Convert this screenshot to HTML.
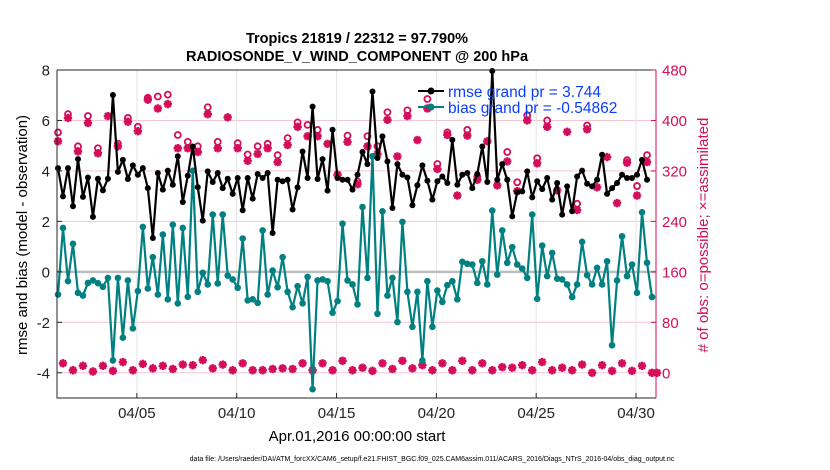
<!DOCTYPE html>
<html><head><meta charset="utf-8"><style>
html,body{margin:0;padding:0;background:#fff;}
svg{display:block;font-family:"Liberation Sans",Arial,sans-serif;}
</style></head><body>
<svg id="chart" width="830" height="470" viewBox="0 0 830 470" xmlns="http://www.w3.org/2000/svg">
<rect width="830" height="470" fill="#fff"/>
<text x="357" y="43" font-size="14.5" font-weight="bold" text-anchor="middle">Tropics 21819 / 22312 = 97.790%</text>
<text x="357" y="61" font-size="14.5" font-weight="bold" text-anchor="middle">RADIOSONDE_V_WIND_COMPONENT @ 200 hPa</text>
<g id="grid"></g>
<g id="obs"></g>
<g id="lines"></g>
<g id="axes"></g>
<text transform="translate(27,235) rotate(-90)" font-size="15" text-anchor="middle">rmse and bias (model - observation)</text>
<text transform="translate(708,235) rotate(-90)" font-size="15" text-anchor="middle" fill="#d40d5a"># of obs: o=possible; ×=assimilated</text>
<text x="357" y="441" font-size="15" text-anchor="middle">Apr.01,2016 00:00:00 start</text>
<text x="432" y="461" font-size="7" text-anchor="middle">data file: /Users/raeder/DAI/ATM_forcXX/CAM6_setup/f.e21.FHIST_BGC.f09_025.CAM6assim.011/ACARS_2016/Diags_NTrS_2016-04/obs_diag_output.nc</text>
<g>
<line x1="418" y1="91" x2="444" y2="91" stroke="#000" stroke-width="2"/>
<circle cx="431" cy="91" r="3.5" fill="#000"/>
<text x="448" y="97" font-size="15.5" fill="#0a3cff">rmse grand pr = 3.744</text>
<line x1="418" y1="107" x2="444" y2="107" stroke="#008080" stroke-width="2"/>
<circle cx="431" cy="107" r="3.5" fill="#008080"/>
<text x="448" y="113" font-size="15.5" fill="#0a3cff">bias grand pr = -0.54862</text>
</g>
</svg>
<script>
const rmse=[4.11,2.99,4.11,2.6,4.47,2.97,3.74,2.18,3.69,3.23,3.69,7.01,3.96,4.44,3.68,4.22,3.85,4.11,3.32,1.34,
3.92,3.26,4.01,3.45,4.58,2.77,3.81,4.97,3.36,2.03,3.98,3.56,3.92,3.32,3.69,3.09,3.72,2.44,3.72,2.9,
3.88,3.72,3.92,1.54,3.65,3.59,3.65,2.47,3.35,4.77,3.72,6.55,3.68,4.47,3.22,5.63,3.72,3.65,3.65,3.26,
3.85,4.75,4.27,7.15,4.51,5.37,4.38,2.53,4.27,3.85,3.74,2.64,3.43,4.22,3.61,2.86,3.59,3.78,3.52,5.23,
3.45,3.85,3.92,3.32,3.88,4.97,3.56,7.96,3.65,4.27,3.65,2.2,3.16,3.19,3.98,2.95,3.59,3.28,3.72,2.86,
3.52,2.27,3.39,2.4,3.78,4.01,3.49,3.39,3.65,4.64,3.09,3.32,3.52,3.85,3.72,3.72,3.85,4.44,3.65];
const bias=[-0.9,1.74,-0.37,1.11,-0.83,-0.94,-0.44,-0.34,-0.45,-0.59,-0.24,-3.51,-0.24,-2.61,-0.34,-2.24,-0.76,1.78,-0.66,0.58,
-0.9,1.48,-1.09,1.87,-1.25,1.74,-0.99,4.01,-0.79,-0.04,-0.5,2.27,-0.46,2.27,-0.15,-0.3,-0.63,1.32,-1.13,-1.09,
-1.23,1.64,-0.9,0.05,-0.61,0.58,-0.79,-1.4,-0.57,-1.25,-0.2,-4.65,-0.34,-0.3,-0.37,-1.62,-1.16,1.91,-0.34,-0.5,
-1.29,2.57,-0.24,4.58,-1.66,2.4,-0.94,-0.24,-1.99,1.98,-0.79,-2.18,-0.79,-3.51,-0.37,-2.18,-0.74,-1.19,-0.53,-0.37,
-1.09,0.4,0.32,0.29,-0.44,0.42,-0.5,2.43,-0.11,1.64,0.36,0.98,0.29,0.13,-0.24,2.27,-1.07,1.04,-0.17,0.75,
-0.27,-0.3,-0.5,-1.0,-0.5,1.19,-0.13,-0.5,0.16,-0.5,0.42,-2.91,-0.34,1.41,-0.17,0.29,-0.83,2.36,0.36,-1.0];
const obsAssim=[367,15,404,4,351,11,396,2,348,11,407,3,359,17,398,4,383,14,433,7,
419,11,426,6,356,13,356,12,350,20,410,7,356,13,405,4,356,15,336,4,
347,4,356,6,334,7,361,6,390,15,375,4,375,15,363,4,314,19,366,4,
299,8,359,3,347,15,401,6,343,19,407,7,369,12,419,4,323,15,377,4,
281,19,376,4,306,15,367,4,297,9,335,8,288,12,400,4,332,17,390,4,
289,8,382,4,258,13,386,0,294,12,342,3,269,15,333,3,281,11,334,0,0];
const obsPoss=[381,15,410,4,359,11,407,2,356,11,407,3,363,17,404,4,390,14,436,7,
438,11,441,6,377,13,366,12,359,20,421,7,366,13,405,4,364,15,346,4,
359,4,363,6,345,7,372,6,397,15,393,4,385,15,363,4,314,19,376,4,
303,8,375,3,359,15,413,6,343,19,416,7,369,12,434,4,331,15,381,4,
281,19,385,4,311,15,367,4,297,9,350,8,302,12,408,4,340,17,400,4,
289,8,382,4,268,13,392,0,294,12,342,3,269,15,337,3,296,11,345,0,0];
const leftTicks=[-4,-2,0,2,4,6,8];
const rightTicks=[0,80,160,240,320,400,480];
const dateTicks=[4,9,14,19,24,29];
const dateLabels=["04/05","04/10","04/15","04/20","04/25","04/30"];

const NS="http://www.w3.org/2000/svg";
const L=57,R=656,T=70,B=398,YMIN=-5,YMAX=8;
function xDay(d){return L+(R-L)*d/30;}
function xIdx(i){return xDay(i*0.25+0.05);}
function yL(v){return B-(v-YMIN)/(YMAX-YMIN)*(B-T);}
function yR(v){return yL(v/40-4);}
function mk(tag,attrs,parent){const e=document.createElementNS(NS,tag);for(const k in attrs)e.setAttribute(k,attrs[k]);parent.appendChild(e);return e;}
const grid=document.getElementById('grid'),obs=document.getElementById('obs'),lines=document.getElementById('lines'),axes=document.getElementById('axes');
const MAG="#d40d5a";

// grid
leftTicks.forEach(v=>{
  if(v===0)return;
  const g=mk('line',{x1:L,x2:R,y1:yL(v),y2:yL(v),stroke:'#f3c6d6','stroke-width':1},grid);
  
  
});
dateTicks.forEach(d=>{
  const g=mk('line',{x1:xDay(d),x2:xDay(d),y1:T,y2:B,stroke:'#e3e3e3','stroke-width':1},grid);
  
  
});
const z=mk('line',{x1:L,x2:R,y1:yL(0),y2:yL(0),stroke:'#bdbdbd','stroke-width':2.5},grid);



// obs markers
obsPoss.forEach((v,i)=>{
  if(v===obsAssim[i])return;
  const c=mk('circle',{cx:xIdx(i),cy:yR(v),r:3,fill:'none',stroke:MAG,'stroke-width':1.8},obs);
  
  
});
obsAssim.forEach((v,i)=>{
  const x=xIdx(i),y=yR(v),s=4.2,d=3;
  const g=mk('path',{d:`M${x-s},${y}H${x+s}M${x},${y-s}V${y+s}M${x-d},${y-d}L${x+d},${y+d}M${x-d},${y+d}L${x+d},${y-d}`,stroke:MAG,'stroke-width':2.4,fill:'none'},obs);
  
  
});

// series
function series(arr,color,r,name){
  const p=mk('polyline',{points:arr.map((v,i)=>xIdx(i)+','+yL(v)).join(' '),fill:'none',stroke:color,'stroke-width':2.2,'stroke-linejoin':'round'},lines);
  
  
  arr.forEach((v,i)=>{
    const c=mk('circle',{cx:xIdx(i),cy:yL(v),r:r,fill:color},lines);
    
    
  });
}
series(bias,'#008080',3.3,'bias');
series(rmse,'#000',3,'rmse');

// axes
const box=mk('path',{d:`M${L},${T}H${R}M${L},${T}V${B}H${R}`,stroke:'#262626','stroke-width':1,fill:'none'},axes);


const ra=mk('line',{x1:R,x2:R,y1:T,y2:B,stroke:MAG,'stroke-width':1},axes);


leftTicks.forEach(v=>{
  mk('line',{x1:L,x2:L+5,y1:yL(v),y2:yL(v),stroke:'#262626'},axes);
  const t=mk('text',{x:L-7,y:yL(v)+5.5,'font-size':15,'text-anchor':'end',fill:'#222'},axes);
  t.textContent=v;
  
  
});
rightTicks.forEach(v=>{
  mk('line',{x1:R-5,x2:R,y1:yR(v),y2:yR(v),stroke:MAG},axes);
  const t=mk('text',{x:R+6,y:yR(v)+5.5,'font-size':15,fill:MAG},axes);
  t.textContent=v;
  
  
});
dateTicks.forEach((d,k)=>{
  mk('line',{x1:xDay(d),x2:xDay(d),y1:B,y2:B-5,stroke:'#262626'},axes);
  const t=mk('text',{x:xDay(d),y:B+20,'font-size':15,'text-anchor':'middle',fill:'#222'},axes);
  t.textContent=dateLabels[k];
  
  
});
</script>
</body></html>
